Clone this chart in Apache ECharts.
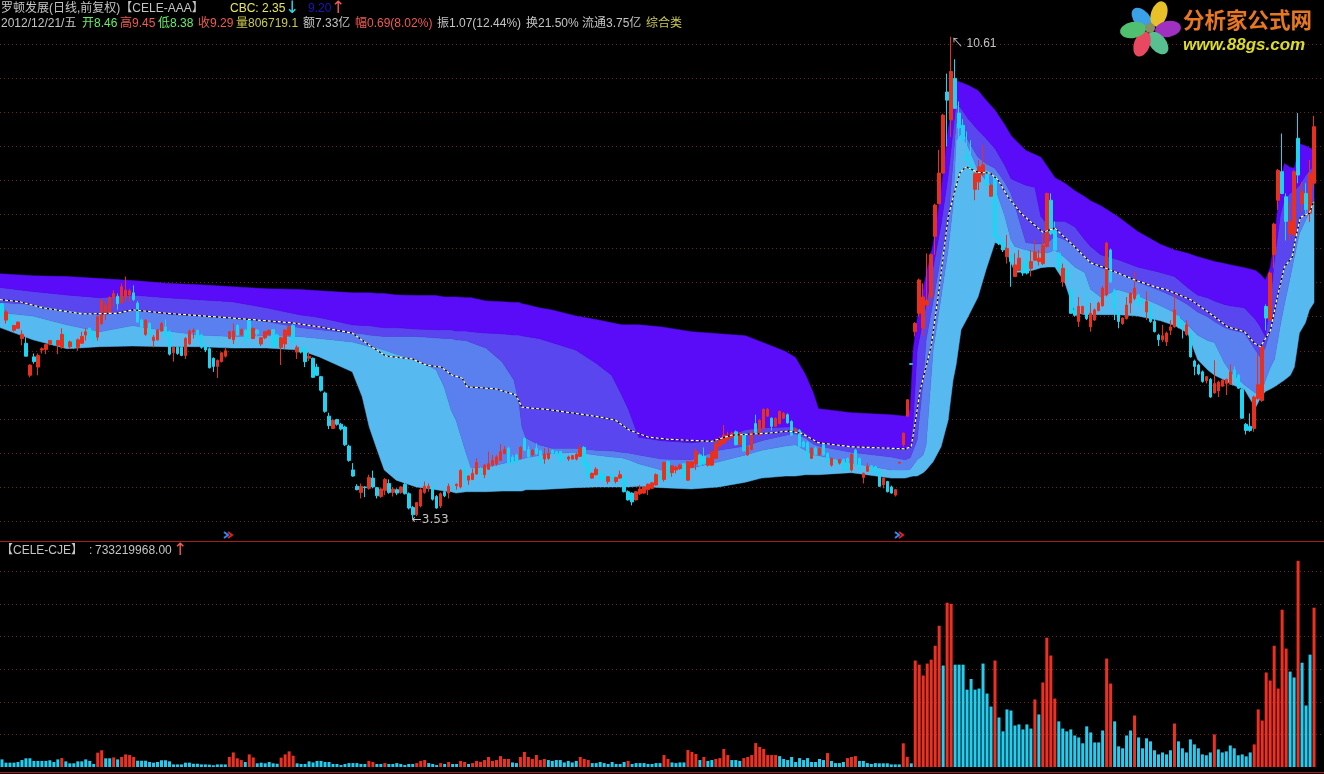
<!DOCTYPE html>
<html><head><meta charset="utf-8">
<style>html,body{margin:0;padding:0;background:#000}#c{width:1324px;height:774px}</style>
<script src="https://cdn.jsdelivr.net/npm/echarts@6/dist/echarts.min.js"></script>
</head><body><div id="c"></div>
<script>
// Daily candles: [open, close, low, high]
const candles = [
[6.69,6.52,6.50,6.70],[6.45,6.57,6.40,6.60],[6.52,6.37,6.30,6.53],[6.30,6.37,6.28,6.38],[6.33,6.42,6.32,6.43],[6.18,6.24,6.08,6.30],[6.11,5.92,5.92,6.20],[5.64,5.79,5.61,5.80],[5.91,5.84,5.81,5.96],[5.76,5.93,5.64,5.96],
[6.01,6.03,5.96,6.05],[6.02,6.09,5.95,6.10],[6.10,6.15,6.08,6.16],[6.15,6.10,6.08,6.17],[6.08,6.15,5.95,6.16],[6.05,6.24,6.03,6.33],[6.26,6.07,6.05,6.30],[6.06,6.13,6.03,6.15],[6.15,6.06,6.03,6.17],[6.05,6.16,6.00,6.18],
[6.11,6.21,6.10,6.28],[6.23,6.28,6.15,6.33],[6.33,6.20,6.18,6.34],[6.28,6.15,6.12,6.30],[6.20,6.50,6.15,6.52],[6.40,6.74,6.38,6.77],[6.55,6.67,6.45,6.72],[6.56,6.78,6.54,6.80],[6.78,6.84,6.64,6.89],[6.80,6.69,6.60,6.84],
[6.70,6.94,6.69,6.99],[6.79,6.89,6.72,7.09],[6.82,6.88,6.72,6.91],[6.85,6.75,6.73,6.96],[6.70,6.42,6.42,6.73],[6.45,6.35,6.33,6.47],[6.24,6.45,6.22,6.46],[6.40,6.23,6.20,6.42],[6.15,6.20,6.05,6.23],[6.16,6.30,6.15,6.32],
[6.29,6.40,6.28,6.42],[6.35,6.21,6.20,6.46],[6.28,5.95,5.93,6.30],[5.97,6.05,5.84,6.06],[6.05,5.96,5.94,6.07],[6.05,5.93,5.92,6.07],[5.93,6.18,5.88,6.20],[6.10,6.29,6.09,6.31],[6.28,6.30,6.18,6.33],[6.30,6.18,6.16,6.31],
[6.23,6.05,6.03,6.25],[6.07,6.01,5.98,6.10],[6.03,5.75,5.74,6.05],[5.89,5.77,5.69,5.90],[5.77,5.86,5.60,5.87],[5.84,5.97,5.83,5.98],[5.92,6.00,5.90,6.05],[6.18,6.28,6.17,6.29],[6.16,6.29,6.10,6.40],[6.37,6.23,6.22,6.39],
[6.23,6.31,6.22,6.33],[6.30,6.14,6.12,6.32],[6.45,6.19,6.18,6.46],[6.18,6.33,6.17,6.34],[6.30,6.25,6.22,6.32],[6.10,6.19,6.07,6.20],[6.19,6.28,6.17,6.29],[6.24,6.30,6.23,6.31],[6.31,6.07,6.05,6.32],[6.23,6.07,6.05,6.25],
[6.05,6.19,5.79,6.20],[6.10,6.30,6.03,6.32],[6.23,6.35,6.22,6.37],[6.37,6.13,6.12,6.39],[5.98,6.05,5.88,6.08],[6.05,5.98,5.96,6.07],[6.03,5.84,5.76,6.05],[5.89,5.92,5.85,5.98],[5.89,5.61,5.60,5.90],[5.76,5.64,5.63,5.81],
[5.62,5.42,5.40,5.63],[5.38,5.11,5.09,5.40],[5.04,4.90,4.85,5.09],[4.86,4.98,4.85,4.99],[4.99,4.92,4.90,5.00],[4.92,4.85,4.83,4.94],[4.88,4.62,4.60,4.90],[4.60,4.39,4.37,4.62],[4.25,4.16,4.15,4.35],[4.01,3.96,3.95,4.04],
[3.92,4.01,3.83,4.05],[4.00,3.99,3.85,4.01],[3.98,4.14,3.96,4.18],[4.13,4.00,3.98,4.24],[3.99,3.87,3.83,4.00],[3.86,3.97,3.84,3.98],[3.95,4.11,3.88,4.13],[4.05,3.92,3.90,4.11],[3.92,3.97,3.86,4.00],[3.96,3.91,3.88,3.98],
[3.92,4.00,3.90,4.01],[4.04,3.90,3.89,4.06],[3.90,3.69,3.67,3.92],[3.70,3.59,3.53,3.72],[3.59,3.77,3.57,3.78],[3.72,3.96,3.70,3.98],[3.92,4.01,3.90,4.08],[3.98,4.01,3.93,4.05],[4.00,3.82,3.80,4.03],[3.86,3.69,3.68,3.88],
[3.72,3.90,3.69,3.92],[3.93,3.87,3.85,3.96],[3.91,4.01,3.83,4.05],[3.98,3.97,3.95,4.00],[4.02,4.04,3.96,4.05],[4.00,4.24,3.98,4.26],[4.26,4.10,4.08,4.30],[4.10,4.16,4.03,4.17],[4.11,4.20,4.10,4.27],[4.19,4.36,4.18,4.42],
[4.27,4.19,4.17,4.29],[4.18,4.32,4.13,4.34],[4.26,4.34,4.25,4.52],[4.32,4.39,4.30,4.47],[4.34,4.44,4.31,4.47],[4.39,4.52,4.38,4.63],[4.49,4.55,4.48,4.60],[4.57,4.34,4.33,4.59],[4.44,4.35,4.34,4.47],[4.47,4.36,4.34,4.49],
[4.42,4.58,4.41,4.60],[4.71,4.54,4.53,4.73],[4.55,4.44,4.43,4.60],[4.47,4.54,4.45,4.56],[4.57,4.49,4.47,4.64],[4.53,4.35,4.34,4.55],[4.41,4.48,4.34,4.57],[4.42,4.49,4.40,4.57],[4.54,4.49,4.47,4.55],[4.52,4.47,4.45,4.53],
[4.52,4.37,4.36,4.53],[4.45,4.42,4.40,4.46],[4.41,4.44,4.38,4.46],[4.41,4.46,4.40,4.47],[4.41,4.48,4.39,4.50],[4.45,4.57,4.44,4.63],[4.58,4.32,4.31,4.60],[4.34,4.15,4.13,4.36],[4.13,4.20,4.12,4.21],[4.18,4.26,4.17,4.29],
[4.22,4.11,4.10,4.25],[4.18,4.10,4.08,4.19],[4.08,4.15,4.04,4.16],[4.18,4.10,4.09,4.19],[4.08,4.14,4.05,4.15],[4.13,4.18,4.12,4.24],[4.15,3.93,3.92,4.17],[3.93,3.81,3.80,3.95],[3.91,3.78,3.73,3.92],[3.81,3.93,3.80,3.94],
[3.90,3.97,3.88,4.03],[3.91,4.00,3.90,4.01],[3.96,4.04,3.88,4.05],[3.98,4.06,3.97,4.07],[4.03,4.18,4.02,4.20],[4.16,4.10,4.09,4.18],[4.11,4.36,4.08,4.37],[4.37,4.15,4.13,4.39],[4.21,4.31,4.15,4.32],[4.25,4.29,4.20,4.31],
[4.27,4.32,4.25,4.34],[4.34,4.13,4.12,4.35],[4.10,4.37,4.09,4.38],[4.29,4.37,4.28,4.38],[4.34,4.52,4.25,4.57],[4.47,4.32,4.31,4.49],[4.45,4.34,4.33,4.58],[4.32,4.42,4.30,4.44],[4.32,4.52,4.31,4.53],[4.42,4.64,4.41,4.71],
[4.60,4.69,4.59,4.74],[4.64,4.76,4.63,4.91],[4.69,4.76,4.68,4.81],[4.73,4.79,4.72,4.81],[4.81,4.62,4.61,4.83],[4.62,4.79,4.61,4.80],[4.78,4.53,4.52,4.79],[4.47,4.59,4.46,4.60],[4.55,4.81,4.54,4.82],[4.93,4.80,4.79,5.06],
[4.76,4.98,4.75,4.99],[4.86,5.14,4.85,5.15],[5.04,5.14,5.03,5.16],[5.01,4.89,4.83,5.02],[4.89,5.01,4.88,5.02],[4.93,5.11,4.92,5.12],[5.01,5.08,5.00,5.10],[5.06,4.94,4.93,5.08],[4.96,4.76,4.75,4.98],[4.81,4.85,4.80,4.86],
[4.83,4.59,4.58,4.85],[4.66,4.59,4.58,4.68],[4.65,4.42,4.41,4.67],[4.42,4.57,4.41,4.58],[4.57,4.47,4.46,4.59],[4.47,4.57,4.46,4.58],[4.62,4.47,4.46,4.63],[4.49,4.37,4.36,4.51],[4.32,4.42,4.30,4.43],[4.40,4.35,4.34,4.41],
[4.35,4.40,4.33,4.41],[4.40,4.25,4.24,4.42],[4.42,4.25,4.24,4.43],[4.25,4.48,4.23,4.49],[4.54,4.32,4.31,4.56],[4.42,4.25,4.24,4.43],[4.14,4.20,4.05,4.21],[4.23,4.30,4.22,4.35],[4.31,4.23,4.22,4.32],[4.30,4.20,4.19,4.31],
[4.22,4.01,4.00,4.24],[4.03,4.13,3.98,4.14],[4.08,3.93,3.92,4.09],[4.00,3.91,3.90,4.02],[3.88,3.96,3.86,3.97],[4.35,4.36,4.34,4.37],[4.62,4.79,4.59,4.80],[5.04,5.28,5.03,5.29],[5.81,5.80,5.79,5.82],[6.28,6.40,6.21,6.42],
[6.55,7.04,6.50,7.06],[6.33,6.79,6.21,6.99],[6.67,6.74,6.65,7.43],[6.79,7.41,6.74,7.43],[7.68,8.14,7.41,8.16],[8.16,8.61,8.15,8.95],[8.61,9.46,8.60,9.48],[9.80,9.68,9.00,10.07],[9.39,10.10,9.14,10.61],[10.00,9.56,9.55,10.28],
[9.49,9.27,9.09,9.66],[9.31,9.10,9.05,9.40],[8.87,8.80,8.75,9.22],[8.75,8.68,8.60,9.09],[8.37,8.60,8.21,8.62],[8.48,8.70,8.36,8.80],[8.59,8.73,8.57,9.02],[8.63,8.43,8.35,8.65],[8.27,8.43,8.26,8.45],[8.56,7.67,7.66,8.58],
[7.67,7.58,7.55,7.68],[7.58,7.48,7.45,7.60],[7.38,7.50,7.28,7.70],[7.41,7.31,6.94,7.43],[7.09,7.26,7.08,7.43],[7.18,7.36,7.17,7.48],[7.28,7.14,7.10,7.30],[7.33,7.14,7.12,7.48],[7.21,7.31,7.09,7.48],[7.33,7.45,7.32,7.63],
[7.31,7.36,7.25,7.48],[7.28,7.55,7.26,7.72],[7.53,8.31,7.52,8.32],[8.21,7.72,7.70,8.31],[7.77,7.48,7.46,7.90],[7.43,7.18,7.17,7.45],[7.01,7.21,6.94,7.28],[7.18,7.04,7.02,7.20],[6.89,6.55,6.54,6.91],[6.60,6.52,6.50,6.62],
[6.43,6.65,6.35,6.79],[6.55,6.65,6.54,6.66],[6.55,6.47,6.45,6.84],[6.35,6.55,6.28,6.70],[6.45,6.60,6.44,6.62],[6.59,6.70,6.58,6.72],[6.66,6.92,6.65,6.95],[6.82,7.58,6.80,7.60],[7.48,7.01,7.00,7.50],[6.89,6.62,6.45,6.91],
[6.57,6.43,6.33,6.59],[6.40,6.48,6.38,6.49],[6.47,6.67,6.46,6.79],[6.70,6.84,6.55,6.86],[6.77,6.92,6.74,7.16],[6.82,6.67,6.65,6.84],[6.75,6.70,6.68,6.77],[6.57,6.72,6.45,6.87],[6.67,6.43,6.41,6.69],[6.43,6.28,6.27,6.50],
[6.23,6.16,6.07,6.25],[6.16,6.22,6.13,6.38],[6.13,6.26,6.07,6.28],[6.30,6.35,6.23,6.45],[6.35,6.60,6.34,6.82],[6.50,6.35,6.33,6.52],[6.43,6.35,6.18,6.45],[6.24,6.38,6.22,6.45],[6.26,5.91,5.90,6.28],[5.85,5.77,5.64,5.87],
[5.79,5.66,5.64,5.81],[5.69,5.55,5.53,5.71],[5.56,5.62,5.52,5.63],[5.58,5.32,5.31,5.60],[5.38,5.52,5.37,5.86],[5.41,5.54,5.32,5.56],[5.48,5.57,5.47,5.58],[5.52,5.58,5.35,5.59],[5.51,5.69,5.50,5.80],[5.72,5.59,5.58,5.77],
[5.64,5.45,5.44,5.66],[5.43,5.01,5.00,5.45],[4.92,4.83,4.77,4.94],[4.89,4.83,4.81,5.08],[4.86,5.32,4.81,5.34],[5.30,5.50,5.28,5.95],[5.27,6.06,5.25,6.08],[6.65,6.48,6.30,6.68],[6.45,7.14,6.44,7.16],[7.41,7.86,7.21,7.88],
[8.21,8.65,8.07,8.67],[8.63,8.31,8.30,9.19],[8.26,7.90,7.62,8.31],[7.72,7.90,7.62,8.19],[7.70,8.63,7.68,8.65],[9.12,8.58,8.46,9.49],[8.16,8.34,8.04,8.48],[8.31,8.07,8.02,8.46],[8.02,8.60,7.89,8.80],[8.46,9.29,8.38,9.45]
];
// Trading amount, millions
const amount = [
35,20,20,20,23,32,40,40,28,28,28,28,31,23,35,41,26,17,17,26,26,35,28,14,66,77,40,40,44,35,46,58,55,46,29,29,29,23,20,23,31,31,26,12,12,12,20,20,15,15,12,12,11,8,12,12,12,46,67,40,32,23,58,44,17,20,17,23,17,15,43,58,72,52,17,
14,14,26,21,28,28,23,23,14,14,9,14,18,18,18,14,14,
28,23,14,14,18,14,14,18,14,9,14,14,
18,28,32,18,14,9,18,14,23,14,14,
28,23,14,18,28,24,32,46,28,32,50,37,37,21,18,
46,69,46,37,55,32,37,32,28,32,32,21,28,21,28,46,37,32,
18,18,23,18,14,23,14,14,23,28,14,18,18,18,14,14,18,18,55,37,21,18,21,21,78,69,60,
32,46,28,32,37,41,83,55,32,32,28,41,46,55,110,92,83,55,55,55,50,37,32,46,23,41,32,41,23,23,37,32,64,28,18,18,23,41,46,50,28,28,18,14,18,
17,17,17,12,12,12,
109,47,17,490,471,421,476,494,558,650,467,756,751,471,471,471,356,405,356,361,476,338,278,490,228,164,265,260,191,196,173,196,177,311,242,389,595,513,315,210,177,164,173,145,136,109,187,159,113,113,168,499,384,210,95,86,145,168,237,136,86,132,118,77,58,67,58,77,200,118,86,67,127,104,86,58,54,67,150,81,67,72,99,86,54,58,49,67,104,265,214,435,398,558,361,724,545,439,412,949,480,283,517,733
];
// Days on which the amount bar is red; all others are cyan
const amountRedDays = [15,24,25,28,30,31,32,33,57,58,59,60,62,63,70,71,72,73,92,93,96,104,105,106,110,112,115,116,118,119,120,121,122,123,124,125,126,127,130,131,132,133,134,135,136,145,146,147,157,166,167,172,173,174,176,179,180,181,182,186,187,188,189,190,191,192,193,194,207,212,213,214,226,227,229,230,231,232,233,234,235,237,238,249,259,261,262,263,264,277,278,284,294,304,314,315,316,317,318,319,320,321,322,325,329];

// Band envelope, read at these day positions
const bandDay = [-0.5,7.76,16.27,24.52,32.78,41.29,49.55,57.81,66.32,74.57,79.58,87.84,90.34,92.09,94.09,95.85,98.85,103.85,108.86,110.86,112.61,113.86,116.37,117.62,121.37,125.38,128.38,129.63,130.38,131.38,134.63,137.89,143.89,148.90,152.90,155.41,157.16,159.66,165.41,172.92,179.68,186.43,190.44,196.45,198.95,201.45,203.45,204.70,212.96,222.97,226.48,227.73,228.48,229.48,230.98,231.73,233.48,235.48,237.24,238.49,239.24,240.49,242.24,244.74,246.75,249.00,251.50,253.01,254.01,256.76,259.01,260.51,262.26,264.02,266.52,269.02,271.52,273.02,275.53,279.78,284.78,290.54,294.04,297.30,299.80,302.30,304.05,306.56,308.06,311.56,314.31,315.57,316.82,318.07,319.07,320.57,321.57,323.07,324.07,325.33,326.83,327.83,329];
const bandTop = [7.13,7.10,7.09,7.06,7.03,6.99,6.97,6.94,6.91,6.90,6.88,6.85,6.85,6.85,6.84,6.84,6.82,6.81,6.81,6.79,6.79,6.79,6.78,6.78,6.73,6.72,6.71,6.71,6.69,6.68,6.63,6.60,6.51,6.46,6.41,6.38,6.38,6.38,6.35,6.28,6.25,6.22,6.13,5.99,5.90,5.65,5.38,5.15,5.09,5.06,5.04,5.13,6.01,6.46,6.90,7.12,7.56,8.35,9.24,9.68,9.97,9.94,9.90,9.82,9.68,9.53,9.31,9.16,9.10,8.94,8.88,8.84,8.69,8.54,8.46,8.35,8.26,8.20,8.13,7.97,7.75,7.56,7.48,7.43,7.38,7.34,7.31,7.28,7.26,7.22,7.18,7.12,7.04,7.23,7.63,8.50,8.75,8.69,8.68,9.04,9.01,8.98,8.94];
const bandSecond = [6.93,6.87,6.82,6.78,6.82,6.78,6.75,6.72,6.63,6.53,6.49,6.38,6.37,6.37,6.35,6.34,6.34,6.32,6.31,6.31,6.31,6.29,6.29,6.28,6.26,6.25,6.23,6.23,6.22,6.21,6.18,6.12,6.01,5.82,5.64,5.35,5.13,4.73,4.68,4.65,4.69,4.84,4.87,4.88,4.88,4.79,4.68,4.65,4.59,4.57,4.56,4.59,4.98,6.01,6.46,6.68,7.23,7.85,8.57,9.24,9.63,9.56,9.41,9.24,9.12,8.97,8.72,8.53,8.50,8.43,8.40,7.97,7.85,7.90,7.90,7.82,7.63,7.53,7.41,7.34,7.23,7.15,7.09,6.93,6.82,6.78,6.73,6.68,6.66,6.63,6.46,6.35,6.21,6.75,7.34,8.00,8.22,8.32,8.35,8.43,8.57,8.65,8.72];
const bandThird = [6.71,6.68,6.60,6.53,6.60,6.54,6.51,6.49,6.43,6.34,6.31,6.26,6.25,6.23,6.22,6.21,6.21,6.21,6.19,6.18,6.18,6.16,6.15,6.12,6.04,5.84,5.57,5.24,4.88,4.72,4.62,4.57,4.57,4.54,4.53,4.51,4.50,4.47,4.41,4.40,4.54,4.60,4.68,4.76,4.78,4.72,4.63,4.60,4.51,4.44,4.40,4.43,4.54,4.69,5.57,6.16,6.72,7.41,7.88,8.79,9.35,9.26,9.09,8.84,8.75,8.68,8.47,8.31,8.13,7.59,7.57,7.57,7.59,7.69,7.63,7.53,7.38,7.29,7.22,7.15,7.01,6.88,6.79,6.68,6.57,6.50,6.43,6.34,6.31,6.26,6.01,5.90,6.06,6.31,6.53,6.97,7.23,7.38,7.63,7.93,8.04,8.10,8.22];
const bandFourth = [6.56,6.51,6.38,6.28,6.37,6.29,6.23,6.21,6.22,6.21,6.18,6.13,6.09,6.06,6.04,6.01,5.95,5.87,5.72,5.47,5.13,4.98,4.50,4.28,4.29,4.34,4.38,4.40,4.41,4.43,4.46,4.49,4.51,4.47,4.44,4.43,4.40,4.34,4.25,4.28,4.37,4.47,4.54,4.60,4.62,4.54,4.47,4.46,4.35,4.25,4.25,4.26,4.32,4.40,4.47,4.62,6.01,6.79,7.48,8.14,9.09,9.19,9.00,8.65,8.50,8.40,7.97,7.63,7.53,7.48,7.45,7.44,7.44,7.48,7.37,7.23,7.15,6.90,6.79,6.90,6.81,6.66,6.56,6.38,6.23,6.15,6.12,5.82,5.69,5.50,5.38,5.37,5.57,5.76,5.87,6.38,6.68,7.09,7.38,7.72,7.91,8.04,8.18];
const bandBottom = [6.34,6.16,6.03,6.06,6.07,6.06,6.06,6.04,6.04,6.01,5.91,5.69,5.32,4.88,4.54,4.25,4.10,4.00,3.96,3.94,3.93,3.91,3.93,3.93,3.93,3.94,3.94,3.94,3.94,3.96,3.96,3.97,3.99,4.00,4.00,4.00,4.00,4.01,3.99,3.97,4.00,4.07,4.13,4.16,4.16,4.18,4.18,4.18,4.21,4.13,4.13,4.15,4.16,4.16,4.21,4.25,4.37,4.59,4.98,5.57,5.79,6.31,6.50,6.79,7.19,7.59,7.53,7.29,7.15,7.16,7.19,7.22,7.23,7.23,7.00,6.56,6.53,6.53,6.53,6.53,6.51,6.44,6.37,6.26,5.87,5.72,5.64,5.57,5.51,5.43,5.16,5.31,5.40,5.44,5.47,5.53,5.57,5.64,5.76,6.26,6.41,6.60,6.71];

// Dashed centre line
const midDay = [-0.5,4.5,10.26,20.27,28.78,32.78,41.29,57.81,72.82,79.58,87.84,92.09,96.35,102.85,106.36,110.11,112.86,115.37,116.62,123.87,128.88,130.38,136.39,141.39,149.65,153.90,157.16,162.16,167.17,177.93,182.93,192.19,197.2,200.45,204.7,212.96,226.48,227.98,228.98,230.23,232.98,234.73,237.24,238.99,240.24,241.74,244.74,247.75,249.75,252.25,255.51,258.01,261.01,264.02,268.02,269.77,273.02,276.53,279.03,284.03,289.04,292.29,298.05,304.05,307.31,311.56,314.06,315.57,318.07,319.82,321.57,323.57,324.32,325.58,327.83,328.84];
const midPrice = [6.75,6.72,6.63,6.54,6.55,6.60,6.55,6.48,6.41,6.35,6.26,6.08,5.92,5.88,5.79,5.76,5.64,5.60,5.47,5.44,5.35,5.17,5.14,5.10,5.03,4.98,4.84,4.73,4.70,4.67,4.76,4.79,4.82,4.79,4.65,4.59,4.56,4.59,4.94,5.42,6.06,6.79,7.96,8.36,8.62,8.70,8.62,8.61,8.51,8.26,8.02,7.89,7.74,7.80,7.58,7.48,7.29,7.22,7.16,7.04,6.94,6.89,6.75,6.50,6.35,6.28,6.11,6.06,6.30,6.79,7.23,7.38,7.63,7.96,8.02,8.18];

const FONT = '"Liberation Sans","Noto Sans CJK SC",sans-serif';
const GRAY='#c4c4c4', GREEN='#66ee66', RED='#f05a50', YELLOW='#c8c850', PALEY='#e8e858';
const headerLabels = [
 ['罗顿发展(日线,前复权)【CELE-AAA】',1,9,GRAY],['CBC: 2.35',230,9,PALEY],['↓',285,9,'#30d8e8'],['9.20',308,9,'#1818c0'],['↑',331,9,'#f05a50'],
 ['2012/12/21/五',1,24,GRAY],['开8.46',82,24,GREEN],['高9.45',120,24,RED],['低8.38',158,24,GREEN],['收9.29',198,24,RED],['量806719.1',236,24,YELLOW],
 ['额7.33亿',303,24,GRAY],['幅0.69(8.02%)',355,24,RED],['振1.07(12.44%)',437,24,GRAY],['换21.50%',526,24,GRAY],['流通3.75亿',582,24,GRAY],['综合类',646,24,YELLOW],
 ['【CELE-CJE】',1,551,GRAY],[':',89,551,GRAY],['733219968.00',95,551,GRAY],['↑',173,551,RED]
];
const days = Array.from({length:332},(_,i)=>i);
const redSet = new Set(amountRedDays);

// One filled polygon per band: upper edge left-to-right, lower edge right-to-left, all through the axis scale
function bandSeries(name, upper, lower, color){
  return {name, type:'custom', xAxisIndex:2, yAxisIndex:0, z:1, silent:true, clip:true,
    data:bandDay.map((d,i)=>[d,upper[i],lower[i]]), encode:{x:0,y:[1,2]},
    renderItem(params, api){
      if(params.dataIndex!==0) return null;
      const pts=[];
      bandDay.forEach((d,i)=>pts.push(api.coord([d,upper[i]])));
      for(let i=bandDay.length-1;i>=0;i--) pts.push(api.coord([bandDay[i],lower[i]]));
      return {type:'polygon',shape:{points:pts},style:{fill:color,stroke:color,lineWidth:0.5}};
    }};
}
const petals = [
 [1142,19,-40,'#3aa0e8'],[1159,14,18,'#e8c028'],[1168,29,80,'#a030c0'],[1158,43,140,'#58c090'],[1142,44,200,'#e84860'],[1133,30,260,'#50c070']
];
const graphics = [];
headerLabels.forEach(h=>{
  const isArrow = h[0]==='↓'||h[0]==='↑';
  graphics.push({type:'text',x:h[1],y:h[2],style:{text:h[0],fill:h[3],font:isArrow?'17px "DejaVu Sans"':'12px '+FONT,textVerticalAlign:'middle'},z:20});
});
[[224,'#3088f0'],[228,'#e02020'],[895,'#3088f0'],[899,'#e02020']].forEach(c=>{
  graphics.push({type:'polyline',shape:{points:[[c[0],532],[c[0]+4,535],[c[0],538]]},style:{stroke:c[1],lineWidth:2,fill:null},z:20});
});
graphics.push({type:'line',shape:{x1:0,y1:541.5,x2:1324,y2:541.5},style:{stroke:'#a81c1c',lineWidth:1},z:20});
graphics.push({type:'line',shape:{x1:0,y1:772.5,x2:1324,y2:772.5},style:{stroke:'#a81c1c',lineWidth:1},z:20});
petals.forEach(p=>graphics.push({type:'circle',x:p[0],y:p[1],rotation:-p[2]*Math.PI/180,scaleX:8,scaleY:13,shape:{cx:0,cy:0,r:1},style:{fill:p[3]},z:20}));
graphics.push({type:'circle',shape:{cx:1150,cy:28,r:5},style:{fill:'#889060'},z:21});
graphics.push({type:'text',x:1183,y:20,style:{text:'分析家公式网',fill:'#e87820',font:'bold 21.5px "Noto Sans CJK SC"',textVerticalAlign:'middle'},z:20});
graphics.push({type:'text',x:1183,y:45,style:{text:'www.88gs.com',fill:'#dcdc28',font:'italic bold 17px "Liberation Sans"',textVerticalAlign:'middle'},z:20});

const dotted = {show:true,showMinLine:true,showMaxLine:false,lineStyle:{color:'#6c2418',type:[1,3],width:1}};
const chart = echarts.init(document.getElementById('c'),null,{renderer:'canvas'});
chart.setOption({
  animation:false, backgroundColor:'#000',
  grid:[{left:0,top:10.25,width:1328,height:510.75},{left:0,top:549.7,width:1328,height:217.3}],
  xAxis:[
   {type:'category',gridIndex:0,data:days,show:false},
   {type:'category',gridIndex:1,data:days,show:false},
   {type:'value',gridIndex:0,min:-0.5,max:331.5,show:false}
  ],
  yAxis:[
   {type:'value',gridIndex:0,min:3.5,max:11,interval:0.5,axisLine:{show:false},axisTick:{show:false},axisLabel:{show:false},splitLine:dotted},
   {type:'value',gridIndex:1,min:0,max:1000,interval:150,axisLine:{show:false},axisTick:{show:false},axisLabel:{show:false},
    splitLine:Object.assign({},dotted,{showMinLine:false})}
  ],
  graphic:graphics,
  series:[
   bandSeries('light',bandFourth,bandBottom,'#56baf0'),
   bandSeries('third',bandThird,bandFourth,'#5a80f0'),
   bandSeries('second',bandSecond,bandThird,'#5a46ee'),
   bandSeries('top',bandTop,bandSecond,'#5a0cf8'),
   {type:'candlestick',xAxisIndex:0,yAxisIndex:0,data:candles,barWidth:3,z:3,silent:true,
    itemStyle:{color:'#e8301f',color0:'#1fd3f2',borderColor:'#e8301f',borderColor0:'#1fd3f2',borderWidth:1},
    markPoint:{silent:true,symbol:'circle',symbolSize:0,animation:false,
      data:[
       {coord:[238,10.61],label:{show:true,position:'right',distance:0,offset:[0,7],formatter:'↖ 10.61',color:'#c4c4c4',fontSize:12,fontFamily:FONT}},
       {coord:[103,3.53],label:{show:true,position:'right',distance:0,offset:[-1,1],formatter:'←3.53',color:'#c4c4c4',fontSize:12,fontFamily:'"DejaVu Sans"'}}
      ]}},
   {type:'line',xAxisIndex:2,yAxisIndex:0,data:midDay.map((d,i)=>[d,midPrice[i]]),showSymbol:false,symbol:'none',z:4,silent:true,lineStyle:{color:'#000',width:1.2}},
   {type:'line',xAxisIndex:2,yAxisIndex:0,data:midDay.map((d,i)=>[d,midPrice[i]]),showSymbol:false,symbol:'none',z:5,silent:true,lineStyle:{color:'#fff',width:1.2,type:[3,2]}},
   {type:'bar',xAxisIndex:1,yAxisIndex:1,barWidth:3,z:3,silent:true,
    data:amount.map((v,i)=>({value:v,itemStyle:{color:redSet.has(i)?'#ee3020':'#22cdf0'}}))}
  ]
});
</script></body></html>
